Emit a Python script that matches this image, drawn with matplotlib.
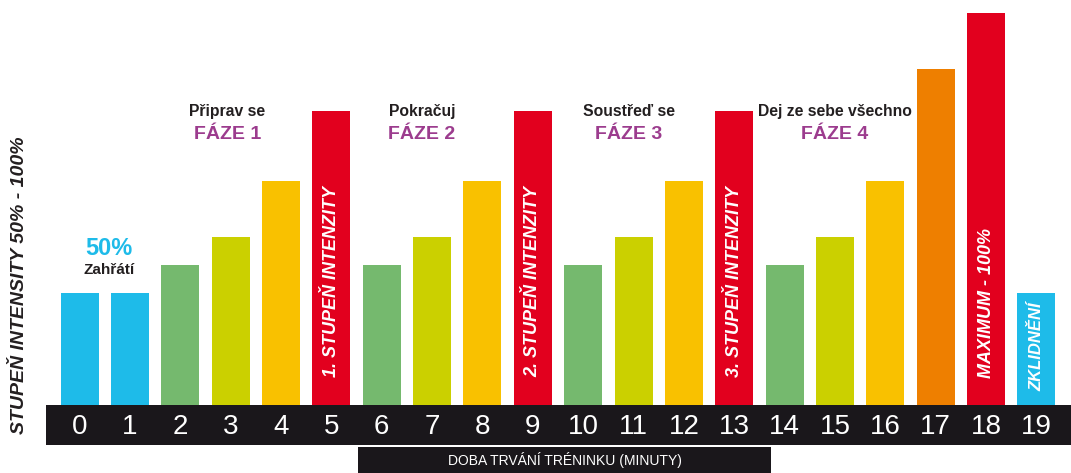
import matplotlib
matplotlib.use("Agg")
import matplotlib.pyplot as plt

plt.rcParams['font.family'] = ['Liberation Sans', 'DejaVu Sans']

# --- Data ---
minutes = list(range(20))
heights = [4, 4, 5, 6, 8, 10.5, 5, 6, 8, 10.5, 5, 6, 8, 10.5, 5, 6, 8, 12, 14, 4]
bar_colors = ['#1ebbe9', '#1ebbe9',
              '#75b96e', '#cbd000', '#f9c100', '#e2001e',
              '#75b96e', '#cbd000', '#f9c100', '#e2001e',
              '#75b96e', '#cbd000', '#f9c100', '#e2001e',
              '#75b96e', '#cbd000', '#f9c100', '#ee7f00', '#e2001e',
              '#1ebbe9']

phase_titles = ['Připrav se', 'Pokračuj', 'Soustřeď se', 'Dej ze sebe všechno']
phase_names = ['FÁZE 1', 'FÁZE 2', 'FÁZE 3', 'FÁZE 4']
phase_x = [2.93, 6.8, 10.91, 15.0]

# text inside bars: (bar index, label, y centre, fontsize)
bar_texts = [(5, '1. STUPEŇ INTENZITY', 4.4, 13),
             (9, '2. STUPEŇ INTENZITY', 4.4, 13),
             (13, '3. STUPEŇ INTENZITY', 4.4, 13),
             (18, 'MAXIMUM - 100%', 3.65, 13),
             (19, 'ZKLIDNĚNÍ', 2.1, 12)]

DARK = '#231f20'
PURPLE = '#9c3c8e'
BAND = '#1a171b'

W, H = 1071, 473
fig = plt.figure(figsize=(W / 100, H / 100), dpi=100)

# --- Main bar axes ---
xlim = (-0.667, 19.686)
ax = fig.add_axes([46 / W, (H - 405) / H, 1025 / W, 405 / H])
ax.bar(minutes, heights, width=0.755, color=bar_colors)
ax.set_xlim(*xlim)
ax.set_ylim(0, 405 / 28)
ax.axis('off')

for x, t in zip(phase_x, phase_titles):
    ax.text(x, 10.47, t, ha='center', va='center', fontsize=11.3,
            fontweight='bold', color=DARK)
for x, t in zip(phase_x, phase_names):
    ax.text(x, 9.66, t, ha='center', va='center', fontsize=14,
            fontweight='bold', color=PURPLE)

ax.text(0.58, 5.58, '50%', ha='center', va='center', fontsize=17,
        fontweight='bold', color='#1ebbe9')
ax.text(0.58, 4.83, 'Zahřátí', ha='center', va='center', fontsize=11,
        fontweight='bold', color=DARK)

for i, t, y, fs in bar_texts:
    ax.text(minutes[i], y, t, rotation=90, ha='center', va='center',
            fontsize=fs, fontweight='bold', fontstyle='italic', color='white')

# --- Black band with minute labels ---
band = fig.add_axes([46 / W, (H - 445) / H, 1025 / W, 40 / H])
band.set_facecolor(BAND)
band.set_xlim(*xlim)
band.set_ylim(0, 1)
band.set_xticks([])
band.set_yticks([])
for s in band.spines.values():
    s.set_visible(False)
for m in minutes:
    band.text(m, 0.45, str(m), ha='center', va='center', fontsize=20,
              color='white')

# --- x axis title box ---
tbox = fig.add_axes([358 / W, 0, 413 / W, 26 / H])
tbox.set_facecolor(BAND)
tbox.set_xticks([])
tbox.set_yticks([])
for s in tbox.spines.values():
    s.set_visible(False)
tbox.text(0.5, 0.5, 'DOBA TRVÁNÍ TRÉNINKU (MINUTY)', ha='center', va='center',
          fontsize=10, color='white', transform=tbox.transAxes)

# --- y axis title ---
fig.text(20 / W, 1 - 285 / H, 'STUPEŇ INTENSITY 50% - 100%', rotation=90,
         ha='center', va='center', fontsize=14, fontweight='bold',
         fontstyle='italic', color=DARK)

fig.savefig('out.png', dpi=100)
